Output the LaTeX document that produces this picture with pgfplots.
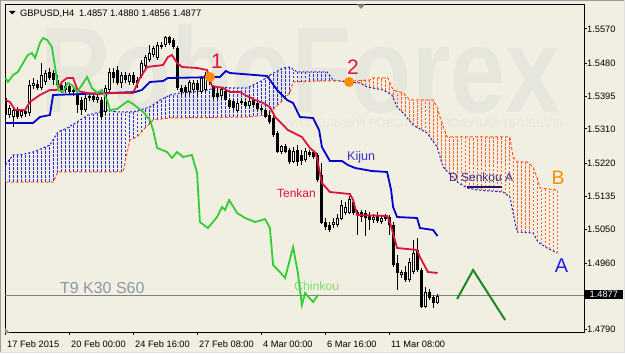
\documentclass[border=0pt]{standalone}
\usepackage{pgfplots}
\pgfplotsset{compat=1.18}
\usepackage{pgfplotstable}
\usepackage{graphicx}
\usepackage{fontspec}
\setmainfont{Liberation Sans}
\newcommand\fs[1]{\fontsize{#1}{#1}\selectfont}

\definecolor{bg}{HTML}{F1EFE2}
\definecolor{wm}{HTML}{E7E6DC}
\definecolor{tenkan}{HTML}{DC143C}
\definecolor{kijun}{HTML}{0000CD}
\definecolor{chinkou}{HTML}{32CD32}
\definecolor{spanA}{HTML}{2020CC}
\definecolor{spanB}{HTML}{FF5A1E}
\definecolor{hatchA}{HTML}{2A2AE0}
\definecolor{hatchB}{HTML}{FF6430}
\definecolor{orangeM}{HTML}{FF8C00}
\definecolor{zig}{HTML}{1A8A1A}
\definecolor{tlabel}{HTML}{8C97A3}
\definecolor{kijunlbl}{HTML}{3A30D0}
\definecolor{chinlbl}{HTML}{7CDD6C}
\definecolor{senlbl}{HTML}{3C2E8C}
\definecolor{navyline}{HTML}{191970}
\definecolor{lblA}{HTML}{1E1EE6}

\pgfplotstableread{
i o c h l
0 1.53906 1.53464 1.53984 1.53386
1 1.53464 1.53646 1.53724 1.53386
2 1.53412 1.53594 1.53646 1.53152
3 1.53594 1.53412 1.53672 1.53360
4 1.53438 1.53568 1.53620 1.53386
5 1.53568 1.53490 1.53646 1.53412
6 1.53516 1.54244 1.54374 1.53438
7 1.54218 1.54296 1.54426 1.54140
8 1.54270 1.54166 1.54374 1.54114
9 1.54166 1.54504 1.54816 1.54114
10 1.54322 1.54556 1.54634 1.54244
11 1.54582 1.54426 1.54686 1.54374
12 1.54556 1.54374 1.54634 1.54244
13 1.54374 1.54244 1.54504 1.54166
14 1.54244 1.54114 1.54322 1.54036
15 1.54114 1.54218 1.54322 1.54036
16 1.54218 1.54062 1.54270 1.53984
17 1.54062 1.54114 1.54192 1.53958
18 1.53984 1.53724 1.54062 1.53516
19 1.53854 1.53594 1.53932 1.53464
20 1.53594 1.53906 1.53984 1.53542
21 1.53906 1.53958 1.54036 1.53828
22 1.53958 1.53854 1.54036 1.53802
23 1.53854 1.53932 1.54010 1.53776
24 1.53854 1.53412 1.53932 1.53334
25 1.53542 1.54166 1.54244 1.53464
26 1.54114 1.54582 1.54686 1.54062
27 1.54582 1.54426 1.54686 1.54296
28 1.54634 1.54296 1.54738 1.54244
29 1.54296 1.54504 1.54582 1.54166
30 1.54504 1.54374 1.54582 1.54296
31 1.54322 1.54504 1.54556 1.54244
32 1.54504 1.54296 1.54582 1.54244
33 1.54296 1.54374 1.54452 1.54166
34 1.54478 1.54816 1.54894 1.54426
35 1.54738 1.54972 1.55024 1.54686
36 1.54894 1.55076 1.55284 1.54842
37 1.55024 1.55206 1.55258 1.54972
38 1.54946 1.55284 1.55362 1.54894
39 1.55232 1.55284 1.55362 1.55180
40 1.55284 1.55492 1.55518 1.55232
41 1.55492 1.55336 1.55518 1.55284
42 1.55414 1.55232 1.55466 1.55180
43 1.55206 1.54166 1.55258 1.54114
44 1.54166 1.54062 1.54244 1.53984
45 1.54192 1.54062 1.54244 1.53932
46 1.54062 1.54322 1.54374 1.53984
47 1.54114 1.54296 1.54374 1.54062
48 1.54296 1.54114 1.54374 1.53932
49 1.54062 1.54426 1.54478 1.54010
50 1.54114 1.54504 1.54582 1.54062
51 1.54478 1.54374 1.54556 1.54244
52 1.54192 1.53932 1.54244 1.53880
53 1.54036 1.53932 1.54166 1.53880
54 1.53958 1.54140 1.54192 1.53906
55 1.54088 1.53854 1.54140 1.53828
56 1.53854 1.53672 1.53906 1.53620
57 1.53828 1.53646 1.53880 1.53594
58 1.53568 1.53776 1.53854 1.53542
59 1.53776 1.53828 1.53906 1.53724
60 1.53802 1.53698 1.53880 1.53646
61 1.53698 1.53828 1.53984 1.53646
62 1.53854 1.53724 1.53906 1.53672
63 1.53776 1.53620 1.53854 1.53568
64 1.53646 1.53594 1.53698 1.53542
65 1.53594 1.53412 1.53646 1.53386
66 1.53464 1.53282 1.53542 1.53230
67 1.53386 1.52944 1.53438 1.52892
68 1.52996 1.52502 1.53048 1.52476
69 1.52502 1.52658 1.52684 1.52450
70 1.52658 1.52502 1.52710 1.52476
71 1.52554 1.52242 1.52606 1.52190
72 1.52242 1.52528 1.52632 1.52216
73 1.52554 1.52242 1.52684 1.52138
74 1.52424 1.52268 1.52554 1.52164
75 1.52294 1.52528 1.52606 1.52242
76 1.52502 1.52424 1.52554 1.52372
77 1.52502 1.52372 1.52554 1.52320
78 1.52424 1.51774 1.52476 1.51722
79 1.51904 1.50656 1.52216 1.50630
80 1.50682 1.50552 1.50786 1.50474
81 1.50604 1.50474 1.50682 1.50422
82 1.50604 1.50682 1.50786 1.50526
83 1.50604 1.50786 1.50890 1.50552
84 1.50760 1.51124 1.51254 1.50734
85 1.50916 1.51072 1.51202 1.50864
86 1.50916 1.51280 1.51358 1.50890
87 1.51202 1.50916 1.51280 1.50864
88 1.50942 1.50864 1.50994 1.50344
89 1.50942 1.50812 1.50994 1.50682
90 1.50916 1.50786 1.50994 1.50318
91 1.50864 1.50734 1.50942 1.50474
92 1.50734 1.50812 1.50890 1.50656
93 1.50864 1.50708 1.50942 1.50656
94 1.50682 1.50786 1.50838 1.50630
95 1.50838 1.50760 1.50890 1.50708
96 1.50812 1.50604 1.50864 1.50344
97 1.50604 1.49564 1.50682 1.49512
98 1.49616 1.49356 1.49824 1.48914
99 1.49304 1.49382 1.49434 1.49226
100 1.49382 1.49174 1.49538 1.49122
101 1.49174 1.49642 1.49746 1.49122
102 1.49382 1.49876 1.50214 1.49330
103 1.49954 1.49434 1.50266 1.49382
104 1.49434 1.48472 1.49486 1.48446
105 1.48472 1.48862 1.48992 1.48446
106 1.48862 1.48706 1.48940 1.48654
107 1.48732 1.48576 1.48784 1.48446
108 1.48570 1.48770 1.48800 1.48560
}\candles

% Senkou A (a) and Senkou B (b) at each bar, for the cloud hatching
\pgfplotstableread{
k a b
0 1.52190 1.51722
1 1.52320 1.51722
2 1.52424 1.51722
3 1.52424 1.51722
4 1.52424 1.51722
5 1.52450 1.51722
6 1.52476 1.51722
7 1.52502 1.51722
8 1.52554 1.51722
9 1.52580 1.51722
10 1.52632 1.51722
11 1.52684 1.51722
12 1.52840 1.51748
13 1.52996 1.51956
14 1.53074 1.51982
15 1.53100 1.51982
16 1.53152 1.51982
17 1.53230 1.51982
18 1.53282 1.51982
19 1.53360 1.51982
20 1.53412 1.51982
21 1.53464 1.51982
22 1.53490 1.51982
23 1.53516 1.51982
24 1.53542 1.51982
25 1.53594 1.51982
26 1.53568 1.51982
27 1.53568 1.51982
28 1.53542 1.51982
29 1.53542 1.51982
30 1.53542 1.52294
31 1.53542 1.52762
32 1.53542 1.52840
33 1.53568 1.52918
34 1.53594 1.53022
35 1.53646 1.53126
36 1.53672 1.53230
37 1.53724 1.53334
38 1.53802 1.53334
39 1.53880 1.53360
40 1.53932 1.53360
41 1.53984 1.53386
42 1.54010 1.53386
43 1.54010 1.53386
44 1.54036 1.53386
45 1.54036 1.53386
46 1.54062 1.53386
47 1.54062 1.53386
48 1.54088 1.53386
49 1.54088 1.53386
50 1.54114 1.53386
51 1.54140 1.53386
52 1.54166 1.53386
53 1.54166 1.53386
54 1.54192 1.53412
55 1.54192 1.53412
56 1.54166 1.53412
57 1.54166 1.53412
58 1.54166 1.53412
59 1.54166 1.53412
60 1.54166 1.53412
61 1.54192 1.53412
62 1.54244 1.53438
63 1.54296 1.53438
64 1.54348 1.53464
65 1.54426 1.53464
66 1.54504 1.53516
67 1.54556 1.53620
68 1.54608 1.53724
69 1.54660 1.53802
70 1.54686 1.53906
71 1.54712 1.54010
72 1.54634 1.54322
73 1.54582 1.54322
74 1.54582 1.54322
75 1.54582 1.54322
76 1.54582 1.54348
77 1.54582 1.54348
78 1.54582 1.54348
79 1.54582 1.54348
80 1.54582 1.54348
81 1.54504 1.54348
82 1.54374 1.54348
83 1.54348 1.54348
84 1.54348 1.54348
85 1.54322 1.54348
86 1.54322 1.54348
87 1.54296 1.54348
88 1.54296 1.54348
89 1.54270 1.54374
90 1.54218 1.54374
91 1.54192 1.54374
92 1.54166 1.54426
93 1.54140 1.54426
94 1.54114 1.54426
95 1.54088 1.54426
96 1.54010 1.54322
97 1.53880 1.54114
98 1.53646 1.54088
99 1.53542 1.54036
100 1.53438 1.53958
101 1.53308 1.53854
102 1.53204 1.53854
103 1.53126 1.53854
104 1.53074 1.53854
105 1.53022 1.53854
106 1.52892 1.53854
107 1.52762 1.53828
108 1.52580 1.53620
109 1.52242 1.53308
110 1.52034 1.52996
111 1.51930 1.52892
112 1.51826 1.52892
113 1.51722 1.52892
114 1.51644 1.52892
115 1.51592 1.52892
116 1.51540 1.52892
117 1.51540 1.52892
118 1.51514 1.52892
119 1.51514 1.52892
120 1.51488 1.52892
121 1.51488 1.52892
122 1.51488 1.52892
123 1.51462 1.52892
124 1.51462 1.52892
125 1.51410 1.52892
126 1.51332 1.52892
127 1.50864 1.52346
128 1.50422 1.52242
129 1.50422 1.52242
130 1.50396 1.52242
131 1.50396 1.52190
132 1.50370 1.52086
133 1.50188 1.51800
134 1.50110 1.51566
135 1.50032 1.51540
136 1.49980 1.51540
137 1.49928 1.51514
138 1.49876 1.51514
}\cloud

\begin{document}
\begin{tikzpicture}[x=1bp,y=1bp]
\fill[bg] (0,0) rectangle (625,353);
\draw[black!38, line width=1bp] (0.5,0) -- (0.5,352.5) -- (625,352.5);
\draw[black!12, line width=1bp] (0.5,0.5) -- (624.5,0.5) -- (624.5,352.5);
% watermark
\node[anchor=base west, inner sep=0, text=wm] at (40,241) {\scalebox{0.81}[1]{\fs{122}\bfseries RoboForex}};
\node[anchor=base west, inner sep=0, text=wm] at (290,226) {\fs{12.2}ИСПОЛЬЗУЙ РОБОТОВ – ПОЛУЧАЙ ПРИБЫЛЬ};

\begin{axis}[
  at={(5bp,21bp)}, anchor=south west,
  scale only axis, width=579bp, height=327bp,
  xmin=-0.125, xmax=144.625, ymin=1.47822, ymax=1.56324,
  axis line style={black, line width=1bp},
  xtick={0,16,32,48,64,80,96},
  xticklabels={17 Feb 2015,20 Feb 00:00,24 Feb 16:00,27 Feb 08:00,4 Mar 00:00,6 Mar 16:00,11 Mar 08:00},
  ytick={1.5570,1.5480,1.5395,1.5310,1.5220,1.5135,1.5050,1.4960,1.4790},
  yticklabels={1.5570,1.5480,1.5395,1.5310,1.5220,1.5135,1.5050,1.4960,1.4790},
  xtick pos=bottom, ytick pos=right, yticklabel pos=right,
  tick align=outside, major tick length=3bp,
  tick style={black, line width=1bp},
  xticklabel style={font=\fs{9.3}, anchor=north west, inner sep=0pt, xshift=1.5bp, yshift=-6bp},
  yticklabel style={font=\fs{9.3}, anchor=west, inner sep=0pt},
]
% cloud hatching: one dashed vertical line per bar between Senkou A and B
\pgfplotsforeachungrouped \k in {0,...,138} {%
  \pgfplotstablegetelem{\k}{a}\of\cloud \let\va\pgfplotsretval
  \pgfplotstablegetelem{\k}{b}\of\cloud \let\vb\pgfplotsretval
  \pgfmathsetmacro\hlo{min(\va,\vb)}%
  \pgfmathsetmacro\hhi{max(\va,\vb)}%
  \pgfmathtruncatemacro\isA{\va>\vb ? 1 : 0}%
  \ifnum\isA=1
    \edef\next{\noexpand\addplot[color=hatchA, line width=1bp, dash pattern=on 2.5bp off 1.5bp, forget plot] coordinates {(\k,\hlo) (\k,\hhi)};}%
  \else
    \edef\next{\noexpand\addplot[color=hatchB, line width=1bp, dash pattern=on 2.5bp off 1.5bp, forget plot] coordinates {(\k,\hlo) (\k,\hhi)};}%
  \fi
  \next
}
% Senkou A and B lines
\addplot[spanA, line width=1bp, dash pattern=on 2bp off 2bp] coordinates {
(0,1.52164) (1.9,1.52424) (3.6,1.52424) (6.9,1.52502) (11.1,1.52684) (13.1,1.53022)
(15.4,1.53126) (17.9,1.53282) (20.6,1.53464) (23.6,1.53542) (25.4,1.53594) (27.9,1.53542)
(31.9,1.53542) (33.6,1.53594) (36.1,1.53672) (38.6,1.53854) (41.1,1.53984) (43.6,1.54036)
(46.9,1.54062) (50.4,1.54114) (53.6,1.54192) (56.9,1.54166) (60.4,1.54166) (64.4,1.54374)
(66.1,1.54504) (69.4,1.54686) (71.1,1.54712) (72.9,1.54582) (80.4,1.54582) (81.9,1.54374)
(85.4,1.54322) (88.6,1.54296) (90.4,1.54192) (94.4,1.54114) (96.6,1.53984) (97.9,1.53672)
(99.4,1.53516) (101.9,1.53204) (105.4,1.52996) (107.9,1.52632) (109.4,1.52112) (110.6,1.51982)
(112.9,1.51722) (115.4,1.51566) (117.9,1.51514) (124.4,1.51462) (126.1,1.51332) (126.9,1.50916)
(127.9,1.50422) (131.9,1.50396) (133.1,1.50162) (135.4,1.50006) (137.9,1.49876)};
\addplot[spanB, line width=1bp, dash pattern=on 3bp off 2bp] coordinates {
(0,1.51722) (11.9,1.51722) (13.1,1.51982) (29.4,1.51982) (30.4,1.52476) (31.1,1.52814)
(32.9,1.52892) (34.4,1.53074) (36.9,1.53334) (41.1,1.53386) (60.4,1.53412) (65.4,1.53464)
(68.6,1.53776) (71.1,1.54036) (71.9,1.54322) (78.6,1.54348) (86.1,1.54348) (91.1,1.54374)
(91.6,1.54426) (95.6,1.54426) (96.9,1.54114) (99.4,1.54036) (101.1,1.53854) (106.9,1.53854)
(107.9,1.53672) (108.6,1.53412) (110.4,1.52892) (126.1,1.52892) (126.9,1.52372) (127.9,1.52242)
(130.4,1.52242) (131.9,1.52112) (133.1,1.51774) (133.6,1.51566) (137.9,1.51514)};

% price line
\addplot[black!50, line width=1bp] coordinates {(-1,1.4877) (146,1.4877)};

% candles
\pgfplotsforeachungrouped \k in {0,...,108} {%
  \pgfplotstablegetelem{\k}{o}\of\candles \let\vo\pgfplotsretval
  \pgfplotstablegetelem{\k}{c}\of\candles \let\vc\pgfplotsretval
  \pgfplotstablegetelem{\k}{h}\of\candles \let\vh\pgfplotsretval
  \pgfplotstablegetelem{\k}{l}\of\candles \let\vl\pgfplotsretval
  \pgfmathsetmacro\blo{min(\vo,\vc)}%
  \pgfmathsetmacro\bhi{max(\vo,\vc)}%
  \edef\next{\noexpand\addplot[black, line width=1bp, forget plot] coordinates {(\k,\vl) (\k,\vh)};
    \noexpand\addplot[black, line width=3bp, forget plot] coordinates {(\k,\blo) (\k,\bhi)};}%
  \next
  \pgfmathtruncatemacro\isup{\vc>\vo ? 1 : 0}%
  \ifnum\isup=1
    \pgfmathsetmacro\wlo{\vo+0.00026}%
    \pgfmathsetmacro\whi{\vc-0.00026}%
    \edef\next{\noexpand\addplot[white, line width=1bp, forget plot] coordinates {(\k,\wlo) (\k,\whi)};}%
    \next
  \fi
}

% Kijun
\addplot[kijun, line width=1.8bp] coordinates {
(0,1.53256) (6.9,1.53256) (8.6,1.53412) (11.1,1.53464) (11.9,1.53984) (26.1,1.54036)
(32.4,1.54062) (34.1,1.54114) (36.1,1.54322) (39.4,1.54348) (40.6,1.54426) (53.6,1.54452)
(55.1,1.54608) (56.1,1.54556) (65.4,1.54478) (67.9,1.54114) (70.4,1.53854) (71.9,1.53776)
(73.6,1.53412) (76.9,1.53386) (78.4,1.53074) (79.1,1.52632) (81.1,1.52268) (84.1,1.52268)
(85.6,1.52164) (87.4,1.52086) (91.6,1.52008) (95.4,1.51982) (96.4,1.51514) (96.9,1.51072)
(97.9,1.50812) (102.9,1.50786) (103.6,1.50526) (106.9,1.50474) (108,1.50318)};
% Tenkan
\addplot[tenkan, line width=1.8bp] coordinates {
(0,1.53854) (1.1,1.53802) (2.4,1.53594) (4.9,1.53594) (6.1,1.53802) (8.6,1.53984)
(11.1,1.54114) (12.9,1.54114) (14.1,1.54322) (15.4,1.54426) (16.9,1.54426) (18.1,1.54088)
(20.4,1.54036) (22.9,1.54010) (27.4,1.54036) (31.9,1.54036) (33.6,1.54426) (35.4,1.54712)
(39.4,1.54764) (40.6,1.54972) (41.6,1.55024) (42.9,1.54816) (44.1,1.54712) (47.9,1.54686)
(50.4,1.54634) (51.6,1.54218) (54.4,1.54166) (56.1,1.54062) (58.6,1.54062) (60.4,1.53958)
(62.4,1.53854) (64.4,1.53776) (66.1,1.53672) (67.4,1.53412) (69.4,1.53204) (70.6,1.53074)
(74.1,1.52892) (76.1,1.52606) (77.6,1.52476) (79.1,1.51696) (81.1,1.51462) (86.1,1.51410)
(86.9,1.51254) (87.9,1.50864) (95.4,1.50838) (96.1,1.50682) (97.9,1.50006) (102.9,1.49954)
(103.6,1.49772) (105.6,1.49382) (108,1.49356)};
% Chinkou
\addplot[chinkou, line width=1.8bp] coordinates {
(0,1.54426) (0.6,1.54322) (1.9,1.54504) (3.1,1.54582) (4.4,1.54816) (5.6,1.55024)
(6.6,1.55076) (7.4,1.54946) (8.6,1.55336) (9.4,1.55466) (10.4,1.55414) (11.6,1.55232)
(12.1,1.54894) (12.9,1.54374) (13.1,1.54114) (14.4,1.54062) (15.6,1.54296) (16.6,1.54244)
(17.9,1.54062) (19.1,1.54244) (20.4,1.54452) (21.6,1.54166) (22.9,1.54036) (24.1,1.54114)
(25.4,1.53854) (26.1,1.53594) (27.9,1.53620) (30.6,1.53828) (31.9,1.53750) (34.4,1.53542)
(36.1,1.53334) (36.9,1.53074) (37.9,1.52606) (40.4,1.52502) (41.6,1.52346) (42.9,1.52502)
(44.4,1.52372) (46.6,1.52424) (47.9,1.51956) (48.6,1.50682) (50.6,1.50526) (52.9,1.50812)
(54.1,1.51072) (54.9,1.50994) (55.9,1.51254) (57.9,1.50916) (59.9,1.50786) (62.4,1.50682)
(64.9,1.50760) (66.1,1.50526) (66.9,1.49564) (68.6,1.49382) (69.9,1.49226) (71.9,1.50032)
(73.1,1.49356) (74.1,1.48524) (74.9,1.48836) (76.9,1.48602) (78.1,1.48784)};

% annotations
\addplot[zig, line width=2bp] coordinates {(112.9,1.48680) (116.9,1.49434) (124.9,1.48134)};
\addplot[navyline, line width=2bp] coordinates {(115.4,1.51605) (124.1,1.51605)};
\addplot[only marks, mark=*, mark size=4.8bp, orangeM] coordinates {(51.1,1.54452) (85.9,1.54322)};
\end{axis}

% header
\fill[black] (9,342) -- (15.5,342) -- (12.25,338.5) -- cycle;
\node[anchor=base west, inner sep=0] at (20,336.5) {\fs{9.4}GBPUSD,H4\enspace 1.4857 1.4880 1.4856 1.4877};
% small markers
\fill[black!45] (357,348.5) -- (365,348.5) -- (361,344) -- cycle;
\fill[black!45] (5,25) -- (5,20) -- (10,20) -- cycle;
% price label
\fill[black] (584,54) rectangle (623,63);
\node[anchor=west, inner sep=0, text=white] at (589.5,58.5) {\fs{9.3}1.4877};
% text labels
\node[anchor=base, inner sep=0, text=tenkan] at (217,285) {\fs{21}1};
\node[anchor=base, inner sep=0, text=tenkan] at (353,279) {\fs{21}2};
\node[anchor=base west, inner sep=0, text=kijunlbl] at (347,193) {\fs{12.6}Kijun};
\node[anchor=base west, inner sep=0, text=tenkan] at (277,155.5) {\fs{12}Tenkan};
\node[anchor=base west, inner sep=0, text=chinlbl] at (294,63) {\fs{12.3}Chinkou};
\node[anchor=base west, inner sep=0, text=senlbl] at (449,171.5) {\fs{12}D Senkou A};
\node[anchor=base, inner sep=0, text=orangeM] at (558,169) {\fs{19.5}B};
\node[anchor=base, inner sep=0, text=lblA] at (561.5,81) {\fs{20}A};
\node[anchor=base west, inner sep=0, text=tlabel] at (60,60) {\fs{16}T9 K30 S60};
\pgfresetboundingbox
\path[use as bounding box] (0,0) rectangle (625,353);
\end{tikzpicture}
\end{document}
